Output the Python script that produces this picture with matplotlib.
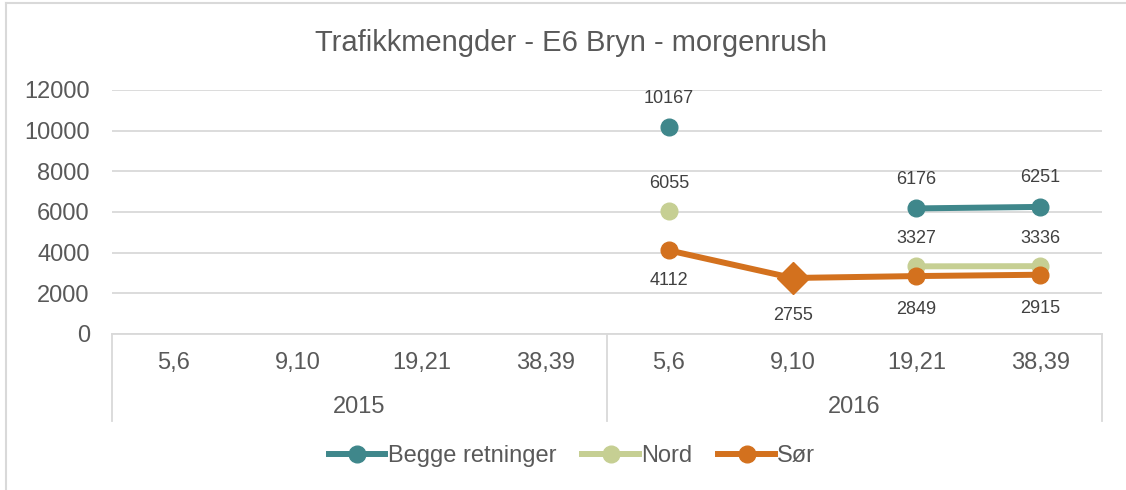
import numpy as np
import matplotlib
matplotlib.use("Agg")
import matplotlib.pyplot as plt
from matplotlib.lines import Line2D

plt.rcParams['font.family'] = ['Liberation Sans', 'DejaVu Sans']

weeks = ["5,6", "9,10", "19,21", "38,39", "5,6", "9,10", "19,21", "38,39"]
years = ["2015", "2016"]
nan = np.nan
begge = [nan, nan, nan, nan, 10167, nan, 6176, 6251]
nord = [nan, nan, nan, nan, 6055, nan, 3327, 3336]
sor = [nan, nan, nan, nan, 4112, 2755, 2849, 2915]
title = "Trafikkmengder - E6 Bryn - morgenrush"
yticks = [0, 2000, 4000, 6000, 8000, 10000, 12000]

c_begge = "#3F878B"
c_nord = "#C6CF93"
c_sor = "#D3711E"
txt = "#595959"
grid = "#D9D9D9"

W, H = 1126, 490
fig = plt.figure(figsize=(W / 100, H / 100), dpi=100)
fig.patch.set_facecolor("white")

L, R, T, B = 112, 1102, 90, 334
ax = fig.add_axes([L / W, 1 - B / H, (R - L) / W, (B - T) / H])
x = np.arange(len(weeks))
ax.set_xlim(-0.5, len(weeks) - 0.5)
ax.set_ylim(0, 12000)
ax.set_yticks(yticks)
ax.set_yticklabels([str(v) for v in yticks], fontsize=17, color=txt)
ax.tick_params(axis='y', length=0, pad=16)
ax.set_xticks(x)
ax.set_xticklabels(weeks, fontsize=17, color=txt)
ax.tick_params(axis='x', length=0, pad=13)
ax.grid(axis='y', color=grid, linewidth=1.3)
ax.set_axisbelow(True)
for s in ["left", "right", "top"]:
    ax.spines[s].set_visible(False)
ax.spines["bottom"].set_color(grid)
ax.spines["bottom"].set_linewidth(1.3)

# group separators and year labels
for xs in [-0.5, 3.5, 7.5]:
    ax.plot([xs, xs], [0, -0.355 * 12000], color=grid, lw=1.3, clip_on=False)
for i, yr in enumerate(years):
    ax.text(i * 4 + 1.5, -0.30 * 12000, yr, ha='center', va='center',
            fontsize=17, color=txt)

lw = 4.3
ms = 12
ax.plot(x, begge, color=c_begge, lw=lw, marker='o', ms=ms, solid_capstyle='round', zorder=3)
ax.plot(x, nord, color=c_nord, lw=lw, marker='o', ms=ms, solid_capstyle='round', zorder=4)
ax.plot(x, sor, color=c_sor, lw=lw, marker='o', ms=ms, solid_capstyle='round', zorder=5)
ax.plot(x[5], sor[5], color=c_sor, marker='D', ms=16, zorder=6, linestyle='none')

def labels(vals, offs):
    for xi, v, d in zip(x, vals, offs):
        if not np.isnan(v):
            ax.annotate(str(int(v)), (xi, v), xytext=(0, d), textcoords='offset points',
                        ha='center', va='center', fontsize=13, color='#404040')

labels(begge, [21] * 8)
labels(nord, [20] * 8)
labels(sor, [0, 0, 0, 0, -22, -27, -24, -24])

fig.text(0.5075, 1 - 43 / H, title, ha='center', va='center', fontsize=21, color=txt)

handles = [Line2D([], [], color=c, lw=lw, marker='o', ms=ms) for c in (c_begge, c_nord, c_sor)]
fig.legend(handles, ["Begge retninger", "Nord", "Sør"], loc='center',
           bbox_to_anchor=(0.508, 1 - 456 / H), ncol=3, frameon=False, fontsize=17,
           handlelength=2.4, handletextpad=0.1, columnspacing=1.1,
           labelcolor=txt)

# chart border (top and left visible)
fig.add_artist(Line2D([6 / W, 1], [1 - 3 / H, 1 - 3 / H], color=grid, lw=1.5))
fig.add_artist(Line2D([6 / W, 6 / W], [0, 1 - 3 / H], color=grid, lw=1.5))

fig.savefig("out.png", dpi=100, facecolor="white")
